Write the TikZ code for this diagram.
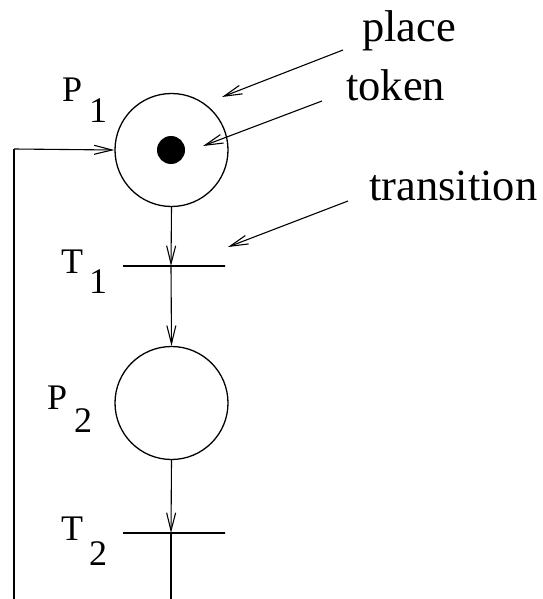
\documentclass[tikz,border=0pt]{standalone}
\usepackage{fontspec}
\setmainfont{Liberation Serif}
\usetikzlibrary{arrows.meta}
\tikzset{
  place/.style={circle,draw,line width=1.3pt,minimum size=113pt,inner sep=0pt},
  trans/.style={rectangle,draw,line width=1.3pt,minimum width=102pt,minimum height=0pt,inner sep=0pt},
  tok/.style={circle,fill=black,minimum size=28pt,inner sep=0pt},
  arc/.style={line width=1.1pt,-{Straight Barb[length=18pt,width=9pt,line width=1.1pt]}},
  plain/.style={line width=1.1pt},
  lbl/.style={anchor=base west,inner sep=0pt,font=\fontsize{36pt}{40pt}\selectfont},
  note/.style={anchor=base west,inner sep=0pt,font=\fontsize{44.5pt}{48pt}\selectfont}
}
\begin{document}
\begin{tikzpicture}[x=1pt,y=-1pt]
\useasboundingbox (0,0) rectangle (542,599);
\clip (0,0) rectangle (542,599);
% places and transitions
\node[place] (P1) at (171.5,150) {};
\node[tok] (tk) at (171,150) {};
\node[trans] (T1) at (174,266) {};
\node[place] (P2) at (171.5,403) {};
\node[trans] (T2) at (174,533) {};
\coordinate (T1c) at (171,266);
\coordinate (T2c) at (171,533);
\coordinate (bot) at (171,640);
\coordinate (botL) at (14,640);
\coordinate (corner) at (14,149);
% arcs
\draw[arc] (P1.south) -- (T1c);
\draw[arc] (T1c) -- (P2.north);
\draw[arc] (P2.south) -- (T2c);
\draw[plain] (T2c) -- (bot) -- (botL) -- (corner);
\draw[arc] (corner) -- (P1.west);
% labels
\node[lbl] (p1a) at (62,102) {P};
\node[lbl] (p1b) at (89,123) {1};
\node[lbl] (t1a) at (61,273) {T};
\node[lbl] (t1b) at (89,293) {1};
\node[lbl] (p2a) at (47,409) {P};
\node[lbl] (p2b) at (74,432) {2};
\node[lbl] (t2a) at (61,540) {T};
\node[lbl] (t2b) at (89,565) {2};
% annotations
\node[note] (nplace) at (362,42) {place};
\node[note] (ntoken) at (346,101) {token};
\node[note] (ntrans) at (369,200) {transition};
\coordinate (aplS) at (343,50);
\coordinate (aplE) at (222,97);
\coordinate (atkS) at (322,101);
\coordinate (atkE) at (203,146);
\coordinate (atrS) at (348,201);
\coordinate (atrE) at (228,247);
\draw[arc] (aplS) -- (aplE);
\draw[arc] (atkS) -- (atkE);
\draw[arc] (atrS) -- (atrE);
\end{tikzpicture}
\end{document}
